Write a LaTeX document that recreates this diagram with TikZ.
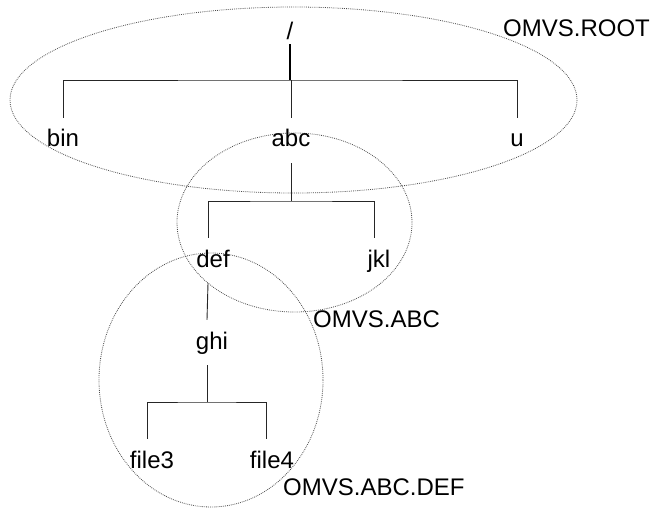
\documentclass[tikz,border=0pt]{standalone}
\usepackage{fontspec}
\setmainfont{Liberation Sans}
\begin{document}
\begin{tikzpicture}[x=1pt,y=-1pt,
  lbl/.style={font=\fontsize{24}{28}\selectfont, anchor=base, inner xsep=0pt, inner ysep=11pt, text height=18pt, text depth=5pt},
  tag/.style={font=\fontsize{24}{28}\selectfont, anchor=base west, inner sep=0pt},
  branch/.style={draw=black!85, line width=0.9pt},
  stem/.style={draw=black, line width=2pt},
  group/.style={draw=black!70, line width=0.8pt, dash pattern=on 0.8pt off 1.1pt}]
\useasboundingbox (0,0) rectangle (651,508);
% group ellipses
\draw[group] (293.5,100) ellipse [x radius=283.5, y radius=93];
\draw[group] (294.5,222.5) ellipse [x radius=117.5, y radius=89.5];
\draw[group] (211,380) ellipse [x radius=112, y radius=127];
% labels of groups
\node[tag] (lroot) at (503,37) {OMVS.ROOT};
\node[tag] (labc) at (313,327) {OMVS.ABC};
\node[tag] (ldef) at (283,495) {OMVS.ABC.DEF};
% tree nodes
\node[font=\fontsize{24}{28}\selectfont, anchor=base, inner sep=0pt, text depth=0pt] (root) at (290,40) {/};
\node[lbl] (bin) at (63,147) {bin};
\node[lbl] (abc) at (291,147) {abc};
\node[lbl] (u) at (517,147) {u};
\node[lbl] (def) at (213,267) {def};
\node[lbl] (jkl) at (379,267) {jkl};
\node[lbl] (ghi) at (212,349) {ghi};
\node[lbl] (file3) at (152,468) {file3};
\node[lbl] (file4) at (272,468) {file4};
% junctions
\coordinate (j1) at (290,80);
\coordinate (j2) at (291,201);
\coordinate (j3) at (207,402);
% connectors
\draw[stem, shorten <=4pt] (root.south) -- (j1);
\draw[branch] (bin.north) |- (j1) -| (u.north);
\draw[branch] (abc.north) -- (abc.north |- j1);
\draw[branch] (abc.south) -- (j2);
\draw[branch] ([xshift=-5pt]def.north) |- (j2) -| ([xshift=-5pt]jkl.north);
\draw[branch] ([xshift=-5pt]def.south) -- ([xshift=-5pt]ghi.north);
\draw[branch] ([xshift=-5pt]ghi.south) -- (j3);
\draw[branch] ([xshift=-5pt]file3.north) |- (j3) -| ([xshift=-6pt]file4.north);
\end{tikzpicture}
\end{document}
